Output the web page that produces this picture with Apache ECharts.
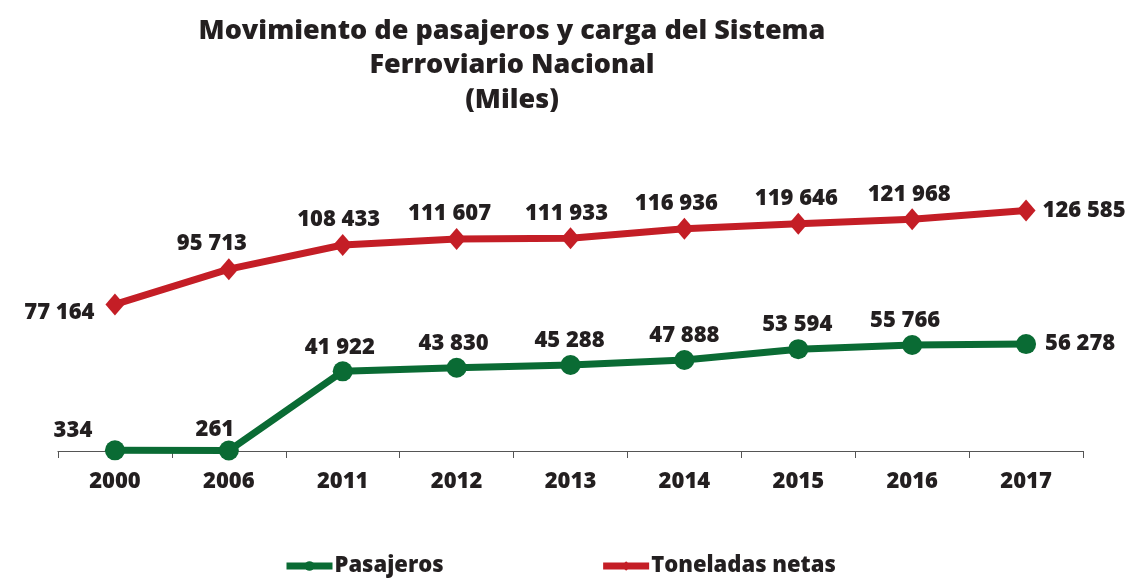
<!DOCTYPE html>
<html><head><meta charset="utf-8">
<script src="https://cdn.jsdelivr.net/npm/echarts@6/dist/echarts.min.js"></script>
<style>html,body{margin:0;padding:0;background:#fff}#c{width:1135px;height:578px}</style>
</head><body><div id="c"></div>
<script>
const categories = ['2000','2006','2011','2012','2013','2014','2015','2016','2017'];
const pasajeros = [334, 261, 41922, 43830, 45288, 47888, 53594, 55766, 56278];
const toneladas = [77164, 95713, 108433, 111607, 111933, 116936, 119646, 121968, 126585];
const seriesNames = ['Pasajeros', 'Toneladas netas'];
const titleText = 'Movimiento de pasajeros y carga del Sistema\nFerroviario Nacional\n(Miles)';

// label placement (style only)
const greenLabelPos = [
  {position:'top', offset:[-42,4]}, {position:'top', offset:[-14,3]}, {position:'top', offset:[-3,0]},
  {position:'top', offset:[-3,0]}, {position:'top', offset:[-1,0]}, {position:'top', offset:[0,0]},
  {position:'top', offset:[-1,0]}, {position:'top', offset:[-7,0]}, {position:'right', offset:[6,0]}
];
const redLabelPos = [
  {position:'left', offset:[-8,8]}, {position:'top', offset:[-17,0]}, {position:'top', offset:[-4,0]},
  {position:'top', offset:[-7,0]}, {position:'top', offset:[-4,0]}, {position:'top', offset:[-8,0]},
  {position:'top', offset:[-2,0]}, {position:'top', offset:[-3,0]}, {position:'right', offset:[4,0]}
];
const fmt = v => String(v).replace(/\B(?=(\d{3})+(?!\d))/g, ' ');
const FONT = 'Open Sans';
const TXT = '#231f20';
const labelStyle = {show:true, fontFamily:FONT, fontWeight:800, fontSize:22, color:TXT, distance:3,
  formatter: p => fmt(p.value)};

function build(vals, pos){
  return vals.map((v,i)=>({value:v, label:Object.assign({}, pos[i])}));
}

const chart = echarts.init(document.getElementById('c'));
chart.setOption({
  animation:false,
  title:{text:titleText, left:507, top:9, textAlign:'center',
    textStyle:{fontFamily:FONT, fontWeight:800, fontSize:27, lineHeight:34.5, color:TXT}},
  legend:{left:278, top:550, itemWidth:46, itemHeight:12, itemGap:156,
    lineStyle:{width:7}, itemStyle:{},
    textStyle:{fontFamily:FONT, fontWeight:800, fontSize:22, color:TXT, padding:[0,0,0,-3]},
    data:seriesNames},
  grid:{left:58, right:52, top:185, bottom:127},
  xAxis:{type:'category', data:categories, boundaryGap:true,
    axisLine:{lineStyle:{color:'#555', width:1.2}},
    axisTick:{show:true, interval:0, length:7, lineStyle:{color:'#555'}},
    axisLabel:{margin:20, fontFamily:FONT, fontWeight:800, fontSize:22, color:TXT}},
  yAxis:{type:'value', min:0, max:140000, show:false, splitLine:{show:false}},
  series:[
    {name:seriesNames[0], type:'line', data:build(pasajeros, greenLabelPos),
      symbol:'circle', symbolSize:20, lineStyle:{width:7, color:'#0a6b34'},
      itemStyle:{color:'#0a6b34'}, label:labelStyle, z:3},
    {name:seriesNames[1], type:'line', data:build(toneladas, redLabelPos),
      symbol:'diamond', symbolSize:[19,22], lineStyle:{width:7, color:'#c41e26'},
      itemStyle:{color:'#c41e26'}, label:labelStyle, z:2}
  ]
});
</script></body></html>
